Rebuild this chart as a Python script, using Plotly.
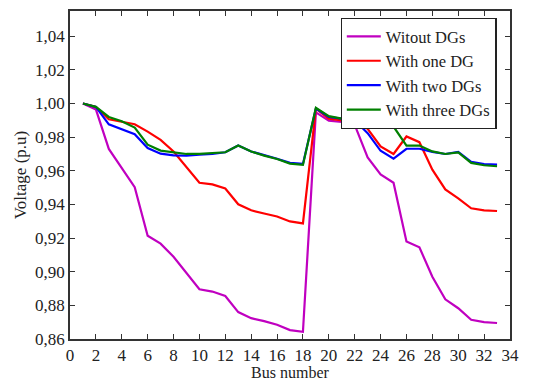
import plotly.graph_objects as go

bus = list(range(1, 34))
without_dg = [1.000, 0.9965, 0.973, 0.9617, 0.9503, 0.9214, 0.9167, 0.9089, 0.899, 0.8896,
              0.8882, 0.8856, 0.876, 0.8724, 0.8706, 0.8685, 0.8653, 0.8643,
              0.9947, 0.9898, 0.9890, 0.9873, 0.968, 0.9578, 0.9529, 0.918, 0.9145,
              0.897, 0.8836, 0.8783, 0.8714, 0.870, 0.8695]
one_dg = [1.000, 0.998, 0.9906, 0.9892, 0.9877, 0.9833, 0.9784, 0.9715, 0.9621, 0.9529,
          0.9519, 0.9495, 0.9401, 0.9365, 0.9346, 0.9328, 0.9299, 0.9287,
          0.997, 0.991, 0.990, 0.9889, 0.985, 0.9745, 0.970, 0.9804, 0.977,
          0.9607, 0.9489, 0.9436, 0.9377, 0.9365, 0.9361]
two_dg = [1.000, 0.998, 0.9876, 0.9847, 0.9818, 0.9735, 0.9702, 0.9692, 0.969, 0.9696,
          0.970, 0.971, 0.975, 0.9715, 0.9694, 0.9672, 0.9647, 0.9641,
          0.997, 0.992, 0.991, 0.990, 0.9824, 0.9719, 0.9672, 0.9731, 0.9731,
          0.9712, 0.970, 0.9712, 0.9653, 0.964, 0.9637]
three_dg = [1.000, 0.998, 0.9920, 0.9895, 0.9857, 0.9755, 0.972, 0.9708, 0.970, 0.970,
            0.9704, 0.971, 0.975, 0.9715, 0.969, 0.967, 0.9643, 0.9635,
            0.9975, 0.9925, 0.991, 0.990, 0.9925, 0.9919, 0.9863, 0.975, 0.975,
            0.9715, 0.970, 0.971, 0.9647, 0.9633, 0.9627]

series = [
    ("Witout DGs", without_dg, "#C000C0"),
    ("With one DG", one_dg, "#FF0000"),
    ("With two DGs", two_dg, "#0000FF"),
    ("With three DGs", three_dg, "#008000"),
]

fig = go.Figure()
for name, vals, col in series:
    fig.add_trace(go.Scatter(x=bus, y=vals, mode="lines", name=name,
                             line=dict(color=col, width=2.2)))

font_family = "Liberation Serif, serif"
axis_common = dict(showgrid=False, zeroline=False, showline=True, linecolor="#333",
                   linewidth=1.5, mirror="ticks", ticks="inside", ticklen=5,
                   tickcolor="#333", tickfont=dict(size=17, color="#222", family=font_family))

fig.update_layout(
    width=526, height=373,
    margin=dict(l=62, r=24, t=1, b=42),
    paper_bgcolor="white", plot_bgcolor="white",
    separators=", ",
    font=dict(family=font_family, color="#222"),
    xaxis=dict(range=[0, 34], dtick=2, tick0=0,
               title=dict(text="Bus number", font=dict(size=16, family=font_family), standoff=2),
               **axis_common),
    yaxis=dict(range=[0.86, 1.055], dtick=0.02, tick0=0.86, tickformat=".2f",
               title=dict(text="Voltage (p.u)", font=dict(size=17, family=font_family), standoff=4),
               **axis_common),
    legend=dict(x=0.615, y=0.979, xanchor="left", yanchor="top",
                bgcolor="white", bordercolor="#222", borderwidth=1.2,
                font=dict(size=16.5, family=font_family, color="#222"),
                tracegroupgap=0, itemwidth=34),
    showlegend=True,
)

fig.write_html("out.html")
